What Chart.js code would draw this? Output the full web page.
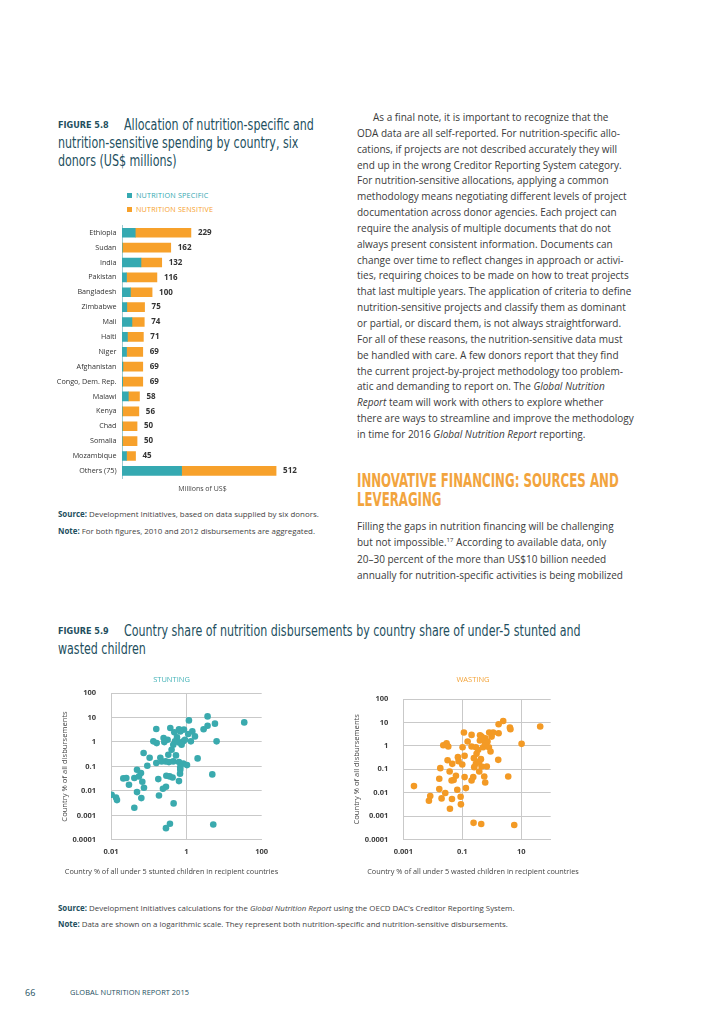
<!DOCTYPE html>
<html><head><meta charset="utf-8">
<script src="https://cdn.jsdelivr.net/npm/chart.js@4.4.1/dist/chart.umd.min.js"></script>
<style>
html,body{margin:0;padding:0;background:#fff;}
body{width:724px;height:1024px;position:relative;overflow:hidden;font-family:'Open Sans',sans-serif;color:#3c3c3c;}
.abs{position:absolute;white-space:nowrap;}
.cond{font-family:'DejaVu Sans Condensed','DejaVu Sans',sans-serif;}
.figlab{font-family:'DejaVu Sans Condensed','DejaVu Sans',sans-serif;font-weight:bold;font-size:9px;letter-spacing:0;color:#234f5e;}
.figtitle{font-family:'DejaVu Sans Condensed','DejaVu Sans',sans-serif;font-size:16px;color:#234f5e;line-height:18px;transform:scaleX(0.77);transform-origin:0 0;}
.body{font-size:10px;line-height:15.85px;color:#3a3a3a;}
.note{font-size:7.9px;color:#444;}
.note b{color:#234f5e;}
canvas{position:absolute;}
</style>
</head><body>

<!-- Figure 5.8 title -->
<div class="abs figlab" style="left:58px;top:120px;">FIGURE 5.8</div>
<div class="abs figtitle" style="left:124px;top:116px;">Allocation of nutrition-specific and</div>
<div class="abs figtitle" style="left:58px;top:134px;">nutrition-sensitive spending by country, six</div>
<div class="abs figtitle" style="left:58px;top:152px;">donors (US$ millions)</div>

<!-- legend -->
<div class="abs" style="left:127px;top:193px;width:5px;height:5px;background:#35a9b1;"></div>
<div class="abs" style="left:136px;top:190px;font-size:7.2px;color:#35a9b1;letter-spacing:0.2px;">NUTRITION SPECIFIC</div>
<div class="abs" style="left:127px;top:207px;width:5px;height:5px;background:#f7a12b;"></div>
<div class="abs" style="left:136px;top:204px;font-size:7.2px;color:#f7a12b;letter-spacing:0.2px;">NUTRITION SENSITIVE</div>

<canvas id="bar" width="280" height="280" style="left:40px;top:220px;"></canvas>

<div class="abs note" style="left:58px;top:506px;line-height:17px;"><b>Source:</b> Development Initiatives, based on data supplied by six donors.<br><b>Note:</b> For both figures, 2010 and 2012 disbursements are aggregated.</div>

<!-- right column -->
<div class="abs body" style="left:357px;top:110px;">
<span style="padding-left:16px"></span>As a final note, it is important to recognize that the<br>
ODA data are all self-reported. For nutrition-specific allo-<br>
cations, if projects are not described accurately they will<br>
end up in the wrong Creditor Reporting System category.<br>
For nutrition-sensitive allocations, applying a common<br>
methodology means negotiating different levels of project<br>
documentation across donor agencies. Each project can<br>
require the analysis of multiple documents that do not<br>
always present consistent information. Documents can<br>
change over time to reflect changes in approach or activi-<br>
ties, requiring choices to be made on how to treat projects<br>
that last multiple years. The application of criteria to define<br>
nutrition-sensitive projects and classify them as dominant<br>
or partial, or discard them, is not always straightforward.<br>
For all of these reasons, the nutrition-sensitive data must<br>
be handled with care. A few donors report that they find<br>
the current project-by-project methodology too problem-<br>
atic and demanding to report on. The <i>Global Nutrition</i><br>
<i>Report</i> team will work with others to explore whether<br>
there are ways to streamline and improve the methodology<br>
in time for 2016 <i>Global Nutrition Report</i> reporting.
</div>

<div class="abs cond" style="left:357px;top:471px;font-size:20px;line-height:19px;font-weight:bold;color:#f2a43e;transform:scaleX(0.655);transform-origin:0 0;">INNOVATIVE FINANCING: SOURCES AND<br>LEVERAGING</div>

<div class="abs body" style="left:357px;top:518px;line-height:16.3px;">
Filling the gaps in nutrition financing will be challenging<br>
but not impossible.<sup style="font-size:6px;line-height:0">17</sup> According to available data, only<br>
20–30 percent of the more than US$10 billion needed<br>
annually for nutrition-specific activities is being mobilized
</div>

<!-- Figure 5.9 title -->
<div class="abs figlab" style="left:58px;top:626px;">FIGURE 5.9</div>
<div class="abs figtitle" style="left:124px;top:622px;">Country share of nutrition disbursements by country share of under-5 stunted and</div>
<div class="abs figtitle" style="left:58px;top:640px;">wasted children</div>

<canvas id="stunt" width="233" height="207" style="left:55px;top:672px;"></canvas>
<canvas id="waste" width="252" height="207" style="left:347px;top:672px;"></canvas>

<div class="abs note" style="left:58px;top:900px;line-height:16px;"><b>Source:</b> Development Initiatives calculations for the <i>Global Nutrition Report</i> using the OECD DAC’s Creditor Reporting System.<br><b>Note:</b> Data are shown on a logarithmic scale. They represent both nutrition-specific and nutrition-sensitive disbursements.</div>

<div class="abs" style="left:25px;top:986px;font-size:9px;color:#234f5e;">66</div>
<div class="abs" style="left:70px;top:987px;font-size:7.4px;color:#234f5e;letter-spacing:0.05px;">GLOBAL NUTRITION REPORT 2015</div>

<script>
// ---------- Figure 5.8 data ----------
const countries = ['Ethiopia','Sudan','India','Pakistan','Bangladesh','Zimbabwe','Mali','Haiti','Niger','Afghanistan','Congo, Dem. Rep.','Malawi','Kenya','Chad','Somalia','Mozambique','Others (75)'];
const nutritionSpecific = [44,1,63,15,28,16,33,18,15,3,2,21,1,1,1,15,198];
const nutritionSensitive = [185,161,69,101,72,59,41,53,54,66,67,37,55,49,49,30,314];
const barTotals = [229,162,132,116,100,75,74,71,69,69,69,58,56,50,50,45,512];

// ---------- Figure 5.9 data ----------
const stuntX = [3.66,1.17,34.4,5.74,3.66,2.87,0.159,0.375,0.637,0.863,0.479,0.69,1.44,1.12,1.69,0.564,0.249,0.318,0.133,0.163,0.26,0.499,0.637,0.83,1.32,6.35,0.918,0.45,0.748,0.406,0.0734,0.332,0.53,0.106,0.204,1.99,0.159,0.221,0.282,0.345,0.45,0.637,0.83,1.04,0.69,0.092,0.049,0.69,0.0625,0.68,4.88,0.294,0.36,0.432,0.0416,0.0553,0.0212,0.0255,0.18,0.0678,0.637,0.030,0.075,0.288,0.239,0.049,0.0104,0.0136,0.0144,0.1875,0.0638,0.459,0.0416,0.367,0.288,5.18];
const stuntY = [11.1,7.6,6.3,5.6,4.6,3.3,3.4,3.7,3.3,3.2,2.47,2.71,2.71,2.11,1.69,1.54,1.45,1.24,1.06,0.90,0.99,1.06,0.96,1.06,1.06,1.06,1.24,0.773,0.773,0.483,0.353,0.302,0.283,0.228,0.228,0.214,0.138,0.161,0.161,0.151,0.161,0.151,0.133,0.114,0.094,0.107,0.0734,0.0734,0.0537,0.0504,0.0474,0.0418,0.0393,0.0357,0.0336,0.0393,0.0325,0.0336,0.0305,0.0238,0.0253,0.0179,0.0135,0.0149,0.0123,0.0090,0.0070,0.00544,0.00424,0.00656,0.0051,0.0031,0.00206,0.000456,0.000303,0.000428];
const wasteX = [2.45,1.71,4.13,4.3,44,0.114,0.207,0.82,1.12,1.71,0.452,0.60,0.99,0.54,0.72,0.152,0.397,0.0294,0.0227,0.0335,0.1025,0.207,0.29,0.51,0.63,0.80,0.348,0.306,0.43,0.12,0.0713,0.075,0.0318,0.0458,0.1,0.29,0.377,0.255,0.452,0.68,1.66,0.0180,0.377,0.0373,0.061,0.12,0.236,0.557,3.62,0.0166,0.0435,0.051,0.207,0.60,0.0166,0.0678,0.133,0.0265,0.0023,0.0082,0.0074,0.0199,0.0447,0.088,0.09,0.0382,0.242,0.44,5.8,10.3,0.91,0.6,0.4,0.248];
const wasteY = [11.6,8.4,6.0,5.1,6.7,3.7,2.94,3.7,3.7,3.46,2.49,2.12,2.49,1.69,1.53,1.53,1.69,1.30,1.07,0.94,0.88,0.94,0.88,0.88,1.1,0.88,0.676,0.457,0.271,0.375,0.33,0.223,0.245,0.171,0.16,0.171,0.215,0.124,0.132,0.132,0.254,0.112,0.081,0.081,0.0528,0.0465,0.0465,0.0496,0.0496,0.0394,0.0335,0.035,0.0335,0.0275,0.0143,0.0134,0.0158,0.0097,0.0192,0.0073,0.00457,0.00574,0.0054,0.00676,0.0032,0.00209,0.00052,0.000464,0.00042,1.22,0.574,1.22,2.84,0.3];
const yTicks = [100,10,1,0.1,0.01,0.001,0.0001];
const stuntXTicks = [0.01,1,100];
const wasteXTicks = [0.001,0.1,10];

const TEAL = '#35a9b1', ORANGE = '#f7a12b';
Chart.defaults.font.family = "'Open Sans', sans-serif";
Chart.defaults.color = '#3c3c3c';
Chart.defaults.animation = false;

const totalLabels = {
  id: 'totalLabels',
  afterDatasetsDraw(chart) {
    const meta = chart.getDatasetMeta(1);
    const ctx = chart.ctx;
    ctx.save();
    ctx.font = "bold 8px 'Open Sans', sans-serif";
    ctx.fillStyle = '#333';
    ctx.textBaseline = 'middle';
    ctx.textAlign = 'left';
    meta.data.forEach((bar, i) => ctx.fillText(String(barTotals[i]), bar.x + 7, bar.y));
    ctx.restore();
  }
};

new Chart(document.getElementById('bar'), {
  type: 'bar',
  data: {
    labels: countries,
    datasets: [
      {label: 'NUTRITION SPECIFIC', data: nutritionSpecific, backgroundColor: TEAL, barThickness: 9},
      {label: 'NUTRITION SENSITIVE', data: nutritionSensitive, backgroundColor: ORANGE, barThickness: 9}
    ]
  },
  options: {
    indexAxis: 'y',
    responsive: false,
    layout: {padding: {top: 5.3, right: 37, left: 0, bottom: 6.5}},
    plugins: {legend: {display: false}, tooltip: {enabled: false}},
    scales: {
      x: {
        stacked: true, min: 0, max: 535,
        grid: {display: false, drawTicks: false},
        border: {display: false},
        ticks: {display: false},
        title: {display: true, text: 'Millions of US$', font: {size: 7}, color: '#444', padding: 0},
        afterFit: s => { s.height = 15.2; s.paddingLeft = 0; s.paddingRight = 0; }
      },
      y: {
        stacked: true,
        grid: {display: false, drawTicks: false},
        border: {display: true, color: '#9ccbd2', width: 1},
        ticks: {padding: 5.5, font: {size: 7.2}, color: '#333', autoSkip: false},
        afterFit: s => { s.width = 82; s.paddingTop = 0; s.paddingBottom = 0; }
      }
    }
  },
  plugins: [totalLabels]
});

function scatterCfg(xs, ys, color, title, xTitle, xMin, xMax, xTickVals, yAxisW, topPad, xAxisH, rightPad, titleColor) {
  const pts = xs.map((x, i) => ({x: x, y: ys[i]}));
  return {
    type: 'scatter',
    data: {datasets: [{data: pts, backgroundColor: color, borderWidth: 0, pointRadius: 3.3}]},
    options: {
      responsive: false,
      layout: {padding: {top: 0, left: 0, right: 0, bottom: 2.5}},
      plugins: {
        legend: {display: false}, tooltip: {enabled: false},
        title: {display: true, text: title, color: titleColor, font: {size: 7.5, weight: 'normal'}, padding: {top: 3, bottom: topPad}},
        subtitle: {display: true, position: 'bottom', text: xTitle, color: '#444', font: {size: 7.3}, padding: 0}
      },
      scales: {
        x: {
          type: 'logarithmic', min: xMin, max: xMax,
          afterBuildTicks: s => { s.ticks = xTickVals.map(v => ({value: v})); },
          ticks: {padding: 7.8, font: {size: 7.5, weight: 'bold'}, color: '#3c3c3c', callback: v => String(v), maxRotation: 0},
          grid: {drawTicks: false, color: c => (c.tick && c.tick.value === xMax) ? 'rgba(0,0,0,0)' : '#c9c9c9'},
          border: {display: true, color: '#c9c9c9'},
          afterFit: s => { s.height = xAxisH; s.paddingRight = rightPad; s.paddingLeft = 0; }
        },
        y: {
          type: 'logarithmic', min: 0.0001, max: 100,
          afterBuildTicks: s => { s.ticks = yTicks.map(v => ({value: v})); },
          ticks: {padding: 15, font: {size: 7.5, weight: 'bold'}, color: '#3c3c3c', callback: v => String(v)},
          grid: {drawTicks: false, color: '#c9c9c9'},
          border: {display: true, color: '#c9c9c9'},
          title: {display: true, text: 'Country % of all disbursements', color: '#444', font: {size: 7.6}, padding: {top: 5.2, bottom: 0}},
          afterFit: s => { s.width = yAxisW; s.paddingTop = 0; s.paddingBottom = 0; }
        }
      }
    }
  };
}

new Chart(document.getElementById('stunt'), scatterCfg(stuntX, stuntY, '#3aaaae', 'STUNTING',
  'Country % of all under 5 stunted children in recipient countries', 0.01, 100, stuntXTicks, 56, 9, 27.8, 26.3, '#45b3b8'));
new Chart(document.getElementById('waste'), scatterCfg(wasteX, wasteY, '#f39a25', 'WASTING',
  'Country % of all under 5 wasted children in recipient countries', 0.001, 100, wasteXTicks, 56.3, 15, 28.1, 48.3, '#f3a43a'));
</script>
</body></html>
